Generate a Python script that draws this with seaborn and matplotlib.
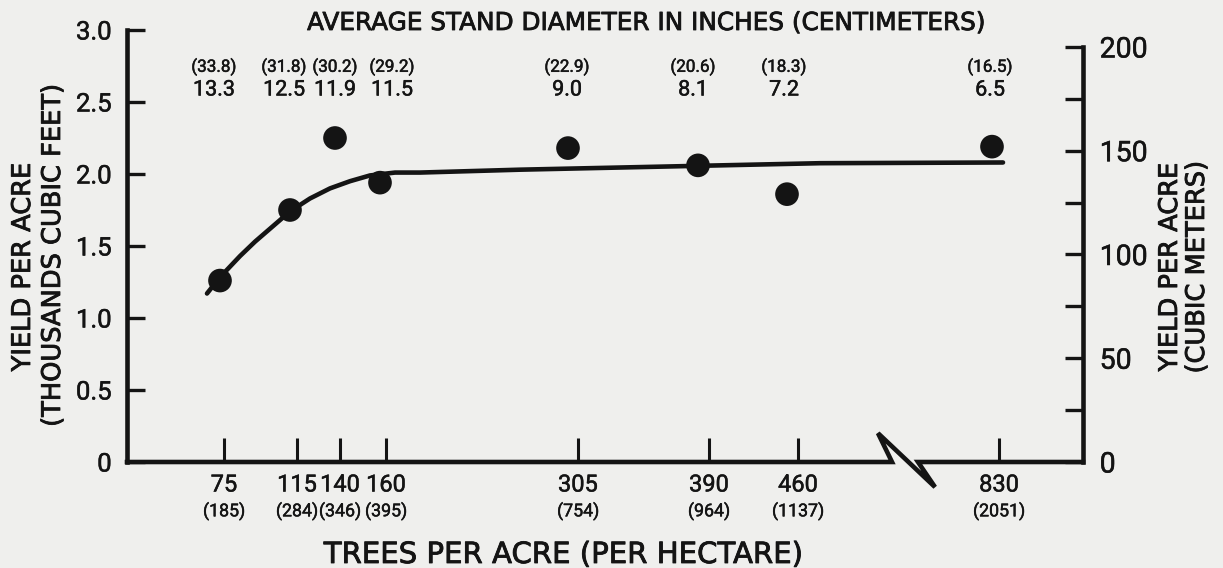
import matplotlib
matplotlib.use("Agg")
import matplotlib.pyplot as plt
import matplotlib.patheffects as pe
import numpy as np
import pandas as pd
import seaborn as sns
from matplotlib.transforms import blended_transform_factory

# ---------------- data ----------------
trees_per_acre = ["75", "115", "140", "160", "305", "390", "460", "830"]
trees_per_hectare = ["(185)", "(284)", "(346)", "(395)", "(754)", "(964)", "(1137)", "(2051)"]
diam_in = ["13.3", "12.5", "11.9", "11.5", "9.0", "8.1", "7.2", "6.5"]
diam_cm = ["(33.8)", "(31.8)", "(30.2)", "(29.2)", "(22.9)", "(20.6)", "(18.3)", "(16.5)"]
yield_kft3 = [1.26, 1.75, 2.25, 1.94, 2.18, 2.06, 1.86, 2.19]
# position of each stand along the hand-drawn (non-linear, broken) x axis
tick_pos = [97, 170, 213, 259, 451, 582, 671, 872]
point_pos = [93, 163, 208, 253, 441, 571, 660, 865]
# hand-fitted curve as drawn
curve_x = [80, 88, 98, 113, 128, 143, 163, 183, 203, 223, 243, 268, 293, 393, 693, 876]
curve_y = [1.17, 1.24, 1.32, 1.43, 1.53, 1.62, 1.74, 1.83, 1.90, 1.95, 1.99, 2.01,
           2.01, 2.03, 2.075, 2.08]
left_ticks = [0, 0.5, 1.0, 1.5, 2.0, 2.5, 3.0]
left_labels = ["0", "0.5", "1.0", "1.5", "2.0", "2.5", "3.0"]
right_ticks = [0, 25, 50, 75, 100, 125, 150, 175, 200]
right_labels = ["0", "", "50", "", "100", "", "150", "", "200"]

# layout: where the hand-lettered diameter labels sit along the top
diam_label_pos = [87, 157, 208, 265, 440, 566, 657, 863]

df = pd.DataFrame({"pos": point_pos, "yield": yield_kft3})
curve = pd.DataFrame({"x": curve_x, "y": curve_y})

# ---------------- style ----------------
sns.set_theme(style="white")
plt.rcParams["font.family"] = ["DejaVu Sans"]
INK = "#141414"
BG = "#efefed"
LW = 3.3
WORD = ["DejaVu Sans"]
NUM = ["Roboto", "DejaVu Sans"]
thick = [pe.withStroke(linewidth=0.6, foreground=INK)]
thin = [pe.withStroke(linewidth=0.35, foreground=INK)]

W, H = 1223, 568
fig = plt.figure(figsize=(W / 100, H / 100), dpi=100, facecolor=BG)
ax = fig.add_axes([127 / W, 106 / H, 956 / W, 432 / H])
ax.set_facecolor("none")

sns.lineplot(data=curve, x="x", y="y", ax=ax, color=INK, lw=LW,
             estimator=None, sort=False, solid_capstyle="round", zorder=2)
sns.scatterplot(data=df, x="pos", y="yield", ax=ax, s=290, color=INK,
                edgecolor="none", linewidth=0, zorder=3)

ax.set_xlim(0, 956)
ax.set_ylim(0, 3.0)
ax.set_xlabel("")
ax.set_ylabel("")

for s in ["top", "right", "bottom"]:
    ax.spines[s].set_visible(False)
ax.spines["left"].set_linewidth(LW)
ax.spines["left"].set_color(INK)
ax.spines["left"].set_capstyle("projecting")

# bottom axis with the break symbol
ax.plot([0, 765, 751, 808, 791, 956], [0, 0, 0.2, -0.174, 0, 0], color=INK,
        lw=LW, clip_on=False, solid_joinstyle="miter", solid_capstyle="projecting", zorder=4)

ax.set_xticks(tick_pos)
ax.tick_params(axis="x", direction="in", length=17, width=2.2, color=INK,
               labelbottom=False, bottom=True)
ax.set_yticks(left_ticks)
ax.set_yticklabels(left_labels)
ax.tick_params(axis="y", direction="in", length=13, width=2.4, color=INK,
               pad=11, labelsize=18.5, labelcolor=INK, left=True)
for t in ax.get_yticklabels():
    t.set_fontfamily(NUM)
    t.set_path_effects(thin)

ax2 = ax.twinx()
ax2.set_ylim(0, 200 * 3.0 / 2.882)
for s in ["top", "left", "bottom"]:
    ax2.spines[s].set_visible(False)
ax2.spines["right"].set_bounds(0, 200)
ax2.spines["right"].set_linewidth(LW)
ax2.spines["right"].set_color(INK)
ax2.spines["right"].set_capstyle("projecting")
ax2.set_yticks(right_ticks)
ax2.set_yticklabels(right_labels)
ax2.tick_params(axis="y", direction="in", length=13, width=2.4, color=INK,
                pad=12, labelsize=20.5, labelcolor=INK, right=True)
for t in ax2.get_yticklabels():
    t.set_fontfamily(NUM)
    t.set_path_effects(thin)
ax2.grid(False)
ax.grid(False)

tr = blended_transform_factory(ax.transData, fig.transFigure)
num_kw = dict(transform=tr, ha="center", va="center", color=INK,
              family=NUM, path_effects=thin)
for p, di, dc in zip(diam_label_pos, diam_in, diam_cm):
    ax.text(p, 1 - 90 / H, di, fontsize=15.5, **num_kw)
    ax.text(p, 1 - 67 / H, dc, fontsize=12.3, **num_kw)
for p, ti, th in zip(tick_pos, trees_per_acre, trees_per_hectare):
    ax.text(p, 1 - 485 / H, ti, fontsize=17, **num_kw)
    ax.text(p, 1 - 511 / H, th, fontsize=12.8, **num_kw)

word_kw = dict(ha="center", va="center", color=INK, family=WORD, path_effects=thick)
fig.text(646 / W, 1 - 23 / H, "AVERAGE STAND DIAMETER IN INCHES (CENTIMETERS)",
         fontsize=17.8, **word_kw)
fig.text(563 / W, 1 - 555 / H, "TREES PER ACRE (PER HECTARE)", fontsize=21, **word_kw)
fig.text(23 / W, 1 - 267 / H, "YIELD PER ACRE", rotation=90, fontsize=18.5, **word_kw)
fig.text(53 / W, 1 - 255 / H, "(THOUSANDS CUBIC FEET)", rotation=90, fontsize=18.5, **word_kw)
fig.text(1170 / W, 1 - 267 / H, "YIELD PER ACRE", rotation=90, fontsize=18.5, **word_kw)
fig.text(1197 / W, 1 - 267 / H, "(CUBIC METERS)", rotation=90, fontsize=18.5, **word_kw)

fig.savefig("out.png", dpi=100, facecolor=BG)
